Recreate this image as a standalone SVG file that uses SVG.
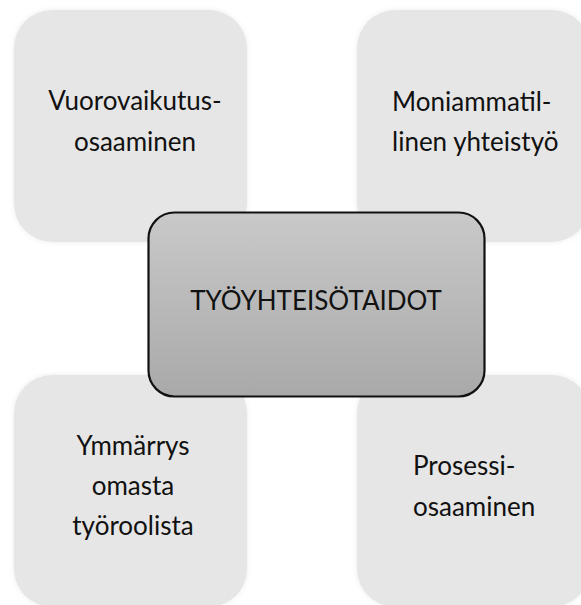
<svg xmlns="http://www.w3.org/2000/svg" width="581" height="605" viewBox="0 0 581 605">
<style>
.sat{fill:#e6e6e6;filter:url(#glow)}
.hub{fill:url(#hubg);stroke:#111;stroke-width:2.2}
text{font-family:Lato,"Open Sans","Liberation Sans",sans-serif;font-size:26px;fill:#111}
.c{text-anchor:middle}
</style>
<defs>
<filter id="glow" x="-10%" y="-10%" width="120%" height="120%">
<feGaussianBlur in="SourceAlpha" stdDeviation="2.5" result="b"/>
<feFlood flood-color="#000" flood-opacity="0.08"/>
<feComposite in2="b" operator="in" result="s"/>
<feMerge><feMergeNode in="s"/><feMergeNode in="SourceGraphic"/></feMerge>
</filter>
<linearGradient id="hubg" x1="0" y1="0" x2="0" y2="1">
<stop offset="0" stop-color="#c9c9c9"/>
<stop offset="1" stop-color="#a9a9a9"/>
</linearGradient>
</defs>
<g id="connectors"></g>
<g id="node-vuorovaikutus">
<rect class="sat" x="14" y="10" width="233" height="232" rx="38"/>
<text class="c" x="135" y="110">Vuorovaikutus-</text>
<text class="c" x="135" y="151">osaaminen</text>
</g>
<g id="node-moniammatillinen">
<rect class="sat" x="357" y="10" width="233" height="232" rx="38"/>
<text x="392" y="111">Moniammatil-</text>
<text x="392" y="151">linen yhteistyö</text>
</g>
<g id="node-ymmarrys">
<rect class="sat" x="14" y="375" width="233" height="232" rx="38"/>
<text class="c" x="133" y="455">Ymmärrys</text>
<text class="c" x="133" y="495">omasta</text>
<text class="c" x="133" y="535">työroolista</text>
</g>
<g id="node-prosessi">
<rect class="sat" x="357" y="375" width="233" height="232" rx="38"/>
<text x="413" y="475">Prosessi-</text>
<text x="413" y="516">osaaminen</text>
</g>
<g id="node-center">
<rect class="hub" x="148.5" y="212.5" width="336" height="184" rx="26"/>
<text class="c" x="316" y="310">TYÖYHTEISÖTAIDOT</text>
</g>
</svg>
